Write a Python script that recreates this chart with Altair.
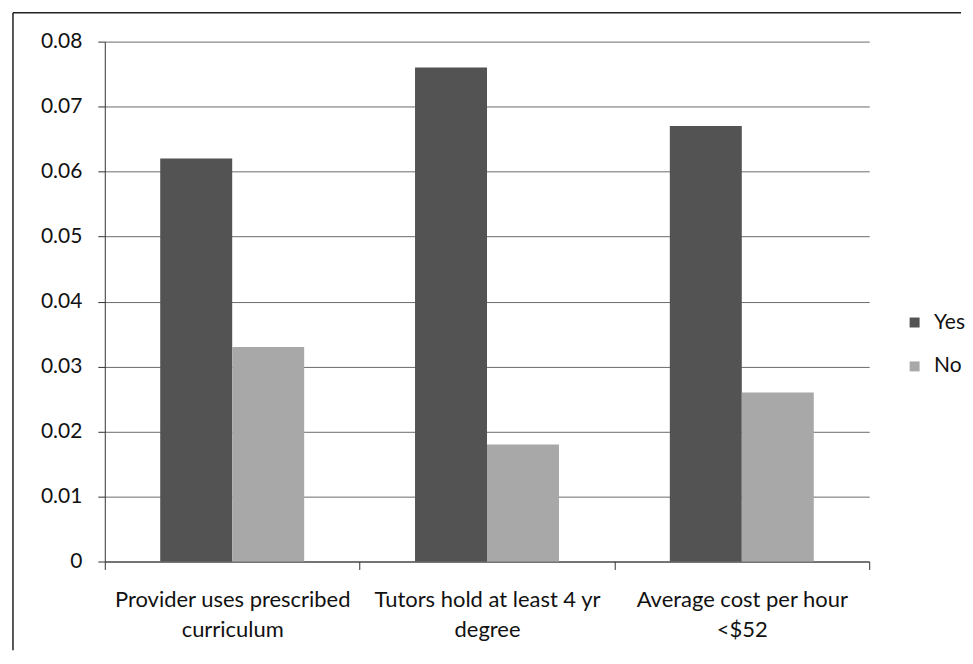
import altair as alt
import pandas as pd

categories = [
    "Provider uses prescribed\ncurriculum",
    "Tutors hold at least 4 yr\ndegree",
    "Average cost per hour\n<$52",
]
series = ["Yes", "No"]
yes_values = [0.062, 0.076, 0.067]
no_values = [0.033, 0.018, 0.026]
colors = ["#535353", "#a8a8a8"]

rows = []
for c, y, n in zip(categories, yes_values, no_values):
    rows.append({"category": c, "series": "Yes", "value": y})
    rows.append({"category": c, "series": "No", "value": n})
df = pd.DataFrame(rows)

FONT = "Lato"

bars = alt.Chart(df).mark_bar().encode(
    x=alt.X(
        "category:N",
        sort=categories,
        title=None,
        scale=alt.Scale(paddingInner=0, paddingOuter=0),
        axis=alt.Axis(
            labelAngle=0,
            labelExpr="split(datum.label, '\\n')",
            labelFont=FONT,
            labelFontSize=22,
            labelColor="#111",
            labelLineHeight=30,
            labelPadding=20,
            labelLimit=400,
            tickBand="extent",
            tickSize=8,
            tickColor="#333",
            domainColor="#333",
            grid=False,
        ),
    ),
    xOffset=alt.XOffset(
        "series:N",
        sort=series,
        scale=alt.Scale(paddingInner=0, paddingOuter=0.77),
    ),
    y=alt.Y(
        "value:Q",
        title=None,
        scale=alt.Scale(domain=[0, 0.08], nice=False),
        axis=alt.Axis(
            values=[0, 0.01, 0.02, 0.03, 0.04, 0.05, 0.06, 0.07, 0.08],
            labelExpr="datum.value == 0 ? '0' : format(datum.value, '.2f')",
            labelFont=FONT,
            labelFontSize=21,
            labelColor="#111",
            labelPadding=16,
            tickSize=7,
            tickColor="#333",
            domainColor="#333",
            gridColor="#6a6a6a",
            gridWidth=1,
        ),
    ),
    color=alt.Color(
        "series:N",
        sort=series,
        scale=alt.Scale(domain=series, range=colors),
        legend=alt.Legend(
            title=None,
            orient="none",
            legendX=801,
            legendY=271,
            symbolType="square",
            symbolSize=100,
            symbolStrokeWidth=0,
            labelFont=FONT,
            labelFontSize=21,
            labelColor="#111",
            labelOffset=9,
            rowPadding=22,
            padding=0,
        ),
    ),
)

top_border = alt.Chart(pd.DataFrame({"a": [0]})).mark_rule(
    color="#222", strokeWidth=1.5
).encode(x=alt.value(-92), x2=alt.value(858), y=alt.value(-29))

left_border = alt.Chart(pd.DataFrame({"a": [0]})).mark_rule(
    color="#222", strokeWidth=1.5
).encode(x=alt.value(-92), y=alt.value(-29), y2=alt.value(610))

chart = alt.layer(bars, top_border, left_border).properties(
    width=766,
    height=521,
    padding={"left": 4, "top": 3, "right": 0, "bottom": 0},
    background="white",
).configure_view(stroke=None)

chart.save("out.html", embed_options={"renderer": "svg", "actions": False})
